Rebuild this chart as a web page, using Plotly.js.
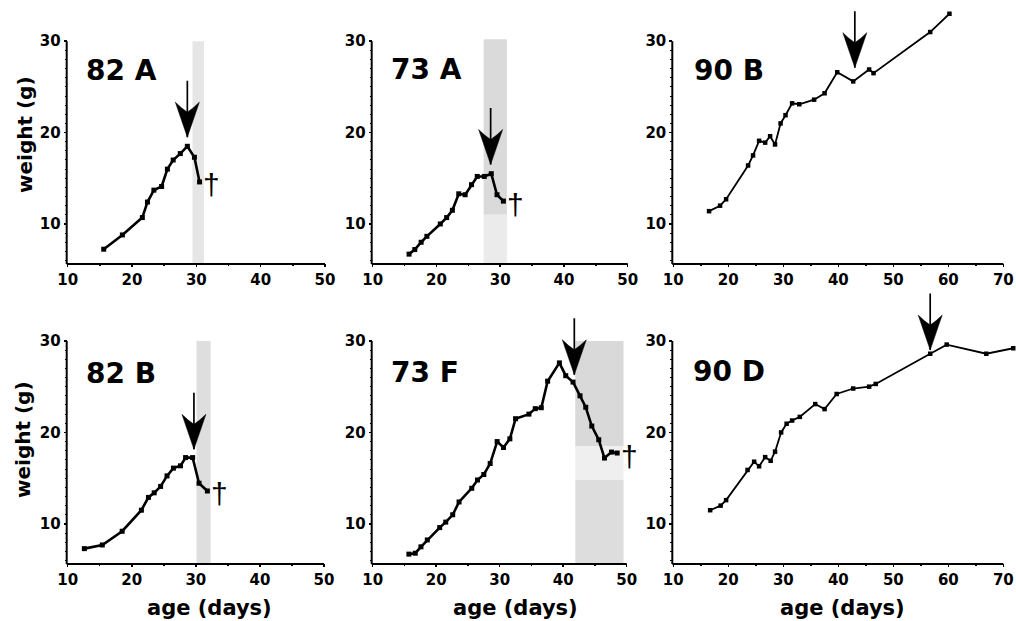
<!DOCTYPE html>
<html><head><meta charset="utf-8">
<script src="https://cdn.plot.ly/plotly-3.0.1.min.js"></script>
<style>html,body{margin:0;padding:0;background:#fff}</style>
</head><body><div id="chart" style="width:1016px;height:621px"></div>
<script>
// ---------------- data ----------------
const panelNames = ['82 A', '73 A', '90 B', '82 B', '73 F', '90 D'];

const day82A = [15.6, 18.5, 21.6, 22.4, 23.4, 24.6, 25.5, 26.4, 27.5, 28.6, 29.7, 30.5];
const wt82A  = [7.24, 8.8, 10.7, 12.4, 13.7, 14.1, 16.0, 17.0, 17.7, 18.5, 17.3, 14.6];

const day73A = [15.7, 16.6, 17.6, 18.5, 20.6, 21.6, 22.5, 23.5, 24.5, 25.5, 26.4, 27.5, 28.6, 29.5, 30.5];
const wt73A  = [6.7, 7.2, 8.0, 8.65, 10.0, 10.7, 11.5, 13.3, 13.2, 14.3, 15.2, 15.2, 15.5, 13.2, 12.5];

const day90B = [16.5, 18.5, 19.6, 23.6, 24.5, 25.6, 26.7, 27.6, 28.5, 29.5, 30.4, 31.6, 32.9, 35.6, 37.5, 39.8, 42.7, 45.6, 46.4, 56.7, 60.2];
const wt90B  = [11.4, 12.0, 12.7, 16.4, 17.5, 19.1, 18.9, 19.6, 18.7, 21.0, 21.9, 23.2, 23.1, 23.6, 24.3, 26.6, 25.6, 26.9, 26.5, 31.0, 33.0];

const day82B = [12.6, 15.4, 18.5, 21.5, 22.6, 23.5, 24.5, 25.5, 26.5, 27.6, 28.4, 29.5, 30.5, 31.8];
const wt82B  = [7.3, 7.7, 9.2, 11.5, 12.9, 13.4, 14.1, 15.25, 16.1, 16.35, 17.25, 17.25, 14.45, 13.6];

const day73F = [15.7, 16.7, 17.6, 18.6, 20.55, 21.5, 22.6, 23.6, 25.6, 26.5, 27.5, 28.5, 29.6, 30.6, 31.6, 32.5, 34.6, 35.6, 36.55, 37.55, 39.4, 40.4, 41.55, 42.65, 43.55, 44.5, 45.6, 46.5, 47.6, 48.5];
const wt73F  = [6.7, 6.8, 7.5, 8.25, 9.6, 10.2, 11.0, 12.4, 13.9, 14.8, 15.4, 16.6, 19.0, 18.35, 19.3, 21.5, 22.0, 22.6, 22.7, 25.6, 27.6, 26.2, 25.5, 24.0, 22.75, 20.7, 19.2, 17.2, 17.85, 17.75];

const day90D = [16.7, 18.6, 19.6, 23.5, 24.7, 25.6, 26.7, 27.7, 28.5, 29.6, 30.6, 31.6, 33.0, 35.8, 37.5, 39.7, 42.7, 45.6, 46.8, 56.7, 59.7, 66.9, 71.8];
const wt90D  = [11.5, 12.0, 12.6, 15.9, 16.8, 16.3, 17.3, 16.9, 17.9, 20.0, 20.95, 21.3, 21.7, 23.1, 22.55, 24.2, 24.8, 25.0, 25.3, 28.6, 29.6, 28.6, 29.2];

// arrow (event) positions per panel
const arrowDay = [28.6, 28.5, 43.0, 29.7, 41.75, 56.7];
const arrowWt  = [19.5, 16.5, 27.1, 18.15, 26.3, 29.0];

// death markers (dagger) shown for panels
const deadPanels = [0, 1, 3, 4];

// shaded periods: panel index, start day, end day, low weight, high weight, shade
const bandPanel = [0, 1, 1, 3, 4, 4, 4];
const bandStart = [29.4, 27.4, 27.4, 30.1, 41.9, 41.9, 41.9];
const bandEnd   = [31.2, 31.05, 31.05, 32.3, 49.5, 49.5, 49.5];
const bandLow   = [5.73, 11.0, 5.73, 5.73, 18.5, 14.8, 5.73];
const bandHigh  = [30.0, 30.2, 11.0, 30.0, 30.0, 18.5, 14.8];
const bandShade = ['#e6e6e6', '#dadada', '#ebebeb', '#dedede', '#d9d9d9', '#efefef', '#dddddd'];

const xTicksShort = [10, 20, 30, 40, 50];
const xTicksLong  = [10, 20, 30, 40, 50, 60, 70];
const yTicks = [10, 20, 30];

// ---------------- layout geometry ----------------
const W = 1016, H = 621;
const FONT = 'DejaVu Sans';
const days = [day82A, day73A, day90B, day82B, day73F, day90D];
const wts  = [wt82A, wt73A, wt90B, wt82B, wt73F, wt90D];
const thick = [true, true, false, true, true, false];

// pixel frames: [xPxLeft, xPxRight, xMin, xMax, yPxBottom, pxPerUnitY, yMin, yMax]
const frames = [
  [67.7, 325.0, 10, 50, 263, 9.14, 5.73, 34],
  [372.7, 627.7, 10, 50, 263, 9.14, 5.73, 34],
  [673.3, 1016, 10, 72.3, 263, 9.14, 5.73, 34],
  [67.7, 324.0, 10, 50, 563, 9.15, 5.73, 34],
  [372.7, 626.7, 10, 50, 563, 9.15, 5.73, 34],
  [673.3, 1016, 10, 72.3, 563, 9.15, 5.73, 34]
];

// arrowhead outline in pixels relative to tip (x right, y up)
const headPx = [0, 12, 6, 0, -6, -12, 0];
const headPy = [0, 35, 29.5, 25, 29.5, 35, 0];

const traces = [], shapes = [], annotations = [];
const layout = {
  width: W, height: H, margin: {l: 0, r: 0, t: 0, b: 0},
  paper_bgcolor: 'white', plot_bgcolor: 'rgba(0,0,0,0)',
  showlegend: false, font: {family: FONT, color: 'black'}
};

function range(a, b, step) { const r = []; for (let v = a; v <= b + 1e-9; v += step) r.push(v); return r; }

frames.forEach((f, i) => {
  const n = i === 0 ? '' : String(i + 1);
  const [xl, xr, x0, x1, yb, sc, y0, y1] = f;
  const pxX = (xr - xl) / (x1 - x0);
  const ytop = yb - (y1 - y0) * sc;
  const isLong = x1 > 60;
  const xt = isLong ? xTicksLong : xTicksShort;
  const xMinor = range(15, isLong ? 65 : 45, 10);
  const yMinor = range(6, 29, 1).filter(v => v % 10 !== 0);
  const tickfont = {family: FONT, size: 15, weight: 'bold', color: 'black'};
  layout['xaxis' + n] = {
    domain: [xl / W, xr / W], range: [x0, x1], anchor: 'y' + n,
    showline: false,
    ticks: 'outside', ticklen: 3, tickwidth: 1.5, tickcolor: 'black',
    tickmode: 'array', tickvals: xt,
    minor: {tickmode: 'array', tickvals: xMinor, ticks: 'outside', ticklen: 2, tickwidth: 1.5, tickcolor: 'black'},
    showgrid: false, zeroline: false, tickfont: tickfont, fixedrange: true
  };
  layout['yaxis' + n] = {
    domain: [1 - yb / H, 1 - ytop / H], range: [y0, y1], anchor: 'x' + n,
    showline: false,
    ticks: 'outside', ticklen: 3, tickwidth: 1.5, tickcolor: 'black',
    tickmode: 'array', tickvals: yTicks,
    minor: {tickmode: 'array', tickvals: yMinor, ticks: 'outside', ticklen: 2, tickwidth: 1, tickcolor: 'black'},
    showgrid: false, zeroline: false, tickfont: tickfont, fixedrange: true
  };
  // axis lines: x from first to last tick, y from bottom to top tick
  const xpx = v => xl + (v - x0) * pxX;
  const ypx = v => yb - (v - y0) * sc;
  shapes.push({type: 'line', xref: 'paper', yref: 'paper',
    x0: (xl - 1) / W, x1: xpx(xt[xt.length - 1]) / W,
    y0: 1 - (yb + 1) / H, y1: 1 - (yb + 1) / H, line: {color: 'black', width: 2}});
  shapes.push({type: 'line', xref: 'paper', yref: 'paper',
    x0: (xl - 1) / W, x1: (xl - 1) / W,
    y0: 1 - (yb + 1) / H, y1: 1 - ypx(yTicks[yTicks.length - 1]) / H, line: {color: 'black', width: 2}});

  traces.push({
    type: 'scatter', mode: 'lines+markers', x: days[i], y: wts[i],
    xaxis: 'x' + n, yaxis: 'y' + n,
    line: {color: 'black', width: thick[i] ? 2.6 : 1.8},
    marker: {symbol: 'square', size: thick[i] ? 5 : 4.5, color: 'black'},
    hoverinfo: 'skip', cliponaxis: false
  });
  // event arrow: shaft via annotation, head as filled outline around the tip
  annotations.push({
    xref: 'x' + n, yref: 'y' + n, x: arrowDay[i], y: arrowWt[i], ax: 0, ay: -58,
    text: '', showarrow: true, arrowhead: 0, arrowwidth: 1.7, arrowcolor: 'black'
  });
  traces.push({
    type: 'scatter', mode: 'lines', fill: 'toself', fillcolor: 'black',
    x: headPx.map(p => arrowDay[i] + p / pxX),
    y: headPy.map(p => arrowWt[i] + p / sc),
    xaxis: 'x' + n, yaxis: 'y' + n,
    line: {color: 'black', width: 0.5}, hoverinfo: 'skip'
  });
  // panel label
  const lx = [121.5, 426.7, 728.8, 121, 425, 729][i];
  const ly = [70, 69, 70.8, 373.3, 372.5, 371.7][i];
  annotations.push({
    xref: 'paper', yref: 'paper', x: lx / W, y: 1 - ly / H, xanchor: 'center', yanchor: 'middle',
    text: panelNames[i], showarrow: false, font: {family: FONT, size: 28, weight: 'bold', color: 'black'}
  });
});

// dagger after last weighing
deadPanels.forEach(i => {
  const n = i === 0 ? '' : String(i + 1);
  const d = days[i], w = wts[i];
  annotations.push({
    xref: 'x' + n, yref: 'y' + n, x: d[d.length - 1], y: w[w.length - 1],
    xshift: 12, yshift: -3, xanchor: 'center', yanchor: 'middle',
    text: '†', showarrow: false, font: {family: 'Liberation Sans', size: 30, color: 'black'}
  });
});

// bands
bandPanel.forEach((p, k) => {
  const n = p === 0 ? '' : String(p + 1);
  shapes.push({type: 'rect', xref: 'x' + n, yref: 'y' + n, layer: 'below',
    x0: bandStart[k], x1: bandEnd[k], y0: bandLow[k], y1: bandHigh[k],
    fillcolor: bandShade[k], line: {width: 0}});
});

// axis titles
const titleFont = {family: FONT, size: 20, weight: 'bold', color: 'black'};
annotations.push({xref: 'paper', yref: 'paper', x: 25 / W, y: 1 - 135 / H, textangle: -90,
  text: 'weight (g)', showarrow: false, font: titleFont, xanchor: 'center', yanchor: 'middle'});
annotations.push({xref: 'paper', yref: 'paper', x: 23 / W, y: 1 - 440 / H, textangle: -90,
  text: 'weight (g)', showarrow: false, font: titleFont, xanchor: 'center', yanchor: 'middle'});
[209, 515, 842.5].forEach(cx => {
  annotations.push({xref: 'paper', yref: 'paper', x: cx / W, y: 1 - 608 / H,
    text: 'age (days)', showarrow: false, font: {family: FONT, size: 21, weight: 'bold', color: 'black'},
    xanchor: 'center', yanchor: 'middle'});
});

layout.shapes = shapes;
layout.annotations = annotations;
Plotly.newPlot('chart', traces, layout, {staticPlot: true, displayModeBar: false});
</script>
</body></html>
